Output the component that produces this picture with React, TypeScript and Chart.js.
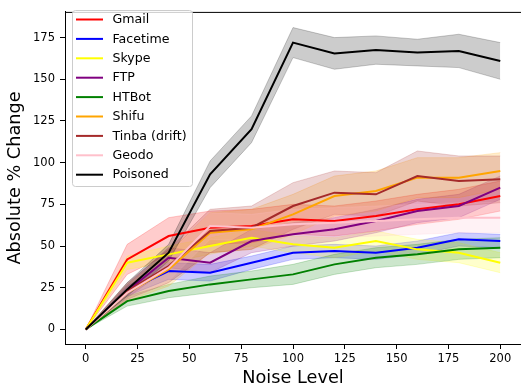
import React, { useEffect, useRef } from "react";
import { Chart, registerables } from "chart.js";

Chart.register(...registerables);

const noiseLevels = [0, 20, 40, 60, 80, 100, 120, 140, 160, 180, 200];
const xTicks = [0, 25, 50, 75, 100, 125, 150, 175, 200];
const yTicks = [0, 25, 50, 75, 100, 125, 150, 175];

const gmailMean = [0, 42, 56, 61, 62, 66, 65, 68, 72, 75, 80];
const gmailStd = [0, 9, 11, 10, 10, 9, 9, 9, 9, 9, 9];
const facetimeMean = [0, 23, 35, 34, 40, 46, 47, 46, 49, 54, 53];
const facetimeStd = [0, 3, 5, 5, 4, 4, 4, 4, 4, 4, 4];
const skypeMean = [0, 40, 45, 50, 55, 51, 49, 53, 48, 46, 40];
const skypeStd = [0, 4, 5, 5, 5, 5, 6, 6, 6, 6, 6];
const ftpMean = [0, 23, 43, 40, 53, 57, 60, 65, 71, 74, 85];
const ftpStd = [0, 4, 6, 6, 7, 7, 7, 7, 7, 7, 7];
const htbotMean = [0, 17, 23, 27, 30, 33, 39, 43, 45, 48, 49];
const htbotStd = [0, 3, 4, 5, 5, 6, 6, 6, 6, 6, 6];
const shifuMean = [0, 22, 36, 58, 60, 69, 80, 83, 91, 91, 95];
const shifuStd = [0, 5, 10, 12, 12, 12, 12, 12, 12, 12, 11];
const tinbaMean = [0, 23, 38, 59, 61, 74, 82, 81, 92, 89, 90];
const tinbaStd = [0, 5, 10, 13, 13, 14, 13, 13, 15, 15, 14];
const geodoMean = [0, 22, 37, 62, 61, 63, 64, 65, 66, 67, 67];
const geodoStd = [0, 5, 8, 8, 8, 9, 9, 9, 9, 9, 9];
const poisonedMean = [0, 24, 46, 93, 120, 172, 165.5, 167.5, 166, 167, 161];
const poisonedStd = [0, 4, 5, 8, 8, 9, 9.5, 8.5, 8, 10, 11];

const seriesNames = ["Gmail", "Facetime", "Skype", "FTP", "HTBot", "Shifu", "Tinba (drift)", "Geodo", "Poisoned"];
const seriesColors = [
  [255, 0, 0],
  [0, 0, 255],
  [255, 255, 0],
  [128, 0, 128],
  [0, 128, 0],
  [255, 165, 0],
  [165, 42, 42],
  [255, 192, 203],
  [0, 0, 0],
];
const seriesMeans = [gmailMean, facetimeMean, skypeMean, ftpMean, htbotMean, shifuMean, tinbaMean, geodoMean, poisonedMean];
const seriesStds = [gmailStd, facetimeStd, skypeStd, ftpStd, htbotStd, shifuStd, tinbaStd, geodoStd, poisonedStd];

const FONT = "'DejaVu Sans', sans-serif";

const rgb = (c: number[]) => `rgb(${c[0]},${c[1]},${c[2]})`;
const rgba = (c: number[], a: number) => `rgba(${c[0]},${c[1]},${c[2]},${a})`;

export default function App() {
  const canvasRef = useRef<HTMLCanvasElement | null>(null);

  useEffect(() => {
    document.body.style.margin = "0";
    const canvas = canvasRef.current;
    if (!canvas) return;

    const datasets: any[] = [];
    seriesNames.forEach((name, i) => {
      const mean = seriesMeans[i];
      const std = seriesStds[i];
      const col = seriesColors[i];
      const upper = noiseLevels.map((x, k) => ({ x, y: mean[k] + std[k] }));
      const lower = noiseLevels.map((x, k) => ({ x, y: mean[k] - std[k] }));
      const upperIndex = datasets.length;
      datasets.push({
        label: name + " upper",
        data: upper,
        borderColor: rgba(col, 0.2),
        borderWidth: 1,
        backgroundColor: rgba(col, 0.2),
        pointRadius: 0,
        fill: { target: upperIndex + 1 },
        order: 200 - i,
        tension: 0,
      });
      datasets.push({
        label: name + " lower",
        data: lower,
        borderColor: rgba(col, 0.2),
        borderWidth: 1,
        pointRadius: 0,
        fill: false,
        order: 200 - i,
        tension: 0,
      });
      datasets.push({
        label: name,
        data: noiseLevels.map((x, k) => ({ x, y: mean[k] })),
        borderColor: rgb(col),
        borderWidth: 2,
        pointRadius: 0,
        fill: false,
        order: 50 - i,
        tension: 0,
      });
    });

    const framePlugin = {
      id: "mplFrame",
      afterDraw(chart: any) {
        const { ctx, chartArea } = chart;
        ctx.save();
        ctx.strokeStyle = "#000";
        ctx.lineWidth = 1;
        ctx.beginPath();
        ctx.moveTo(chartArea.left, chartArea.top + 0.5);
        ctx.lineTo(chartArea.right, chartArea.top + 0.5);
        ctx.stroke();

        // legend
        const bx = 72.5, by = 10.5, bw = 120, bh = 176;
        ctx.beginPath();
        if ((ctx as any).roundRect) (ctx as any).roundRect(bx, by, bw, bh, 3);
        else ctx.rect(bx, by, bw, bh);
        ctx.fillStyle = "rgba(255,255,255,0.8)";
        ctx.fill();
        ctx.strokeStyle = "#cccccc";
        ctx.stroke();
        ctx.font = `12.6px ${FONT}`;
        ctx.textBaseline = "middle";
        ctx.textAlign = "left";
        seriesNames.forEach((name, i) => {
          const cy = 19.5 + i * 19.4;
          ctx.strokeStyle = rgb(seriesColors[i]);
          ctx.lineWidth = 2;
          ctx.beginPath();
          ctx.moveTo(76, cy);
          ctx.lineTo(103, cy);
          ctx.stroke();
          ctx.fillStyle = "#000";
          ctx.fillText(name, 112.5, cy + 0.5);
        });
        ctx.restore();
      },
    };

    const chart = new Chart(canvas, {
      type: "line",
      data: { datasets },
      plugins: [framePlugin],
      options: {
        responsive: false,
        animation: false,
        devicePixelRatio: 1,
        layout: { padding: { top: 3, left: 0, right: -3, bottom: 0 } },
        plugins: {
          legend: { display: false },
          tooltip: { enabled: false },
          filler: { propagate: false },
        },
        scales: {
          x: {
            type: "linear",
            min: -10,
            max: 210,
            afterFit: (scale: any) => {
              scale.height = 46;
              scale.paddingRight = 0;
              scale.paddingLeft = 0;
            },
            afterBuildTicks: (scale: any) => {
              scale.ticks = xTicks.map((v) => ({ value: v }));
            },
            grid: { drawOnChartArea: false, drawTicks: true, tickLength: 5, color: "#000" },
            border: { display: true, color: "#000", width: 1 },
            ticks: { color: "#000", padding: 3, maxRotation: 0, font: { family: FONT, size: 11.5 } },
            title: {
              display: true,
              text: "Noise Level",
              color: "#000",
              font: { family: FONT, size: 17.7 },
              padding: { top: 0, bottom: 1 },
            },
          },
          y: {
            type: "linear",
            min: -8.75,
            max: 190.4,
            afterFit: (scale: any) => {
              scale.width = 65;
            },
            afterBuildTicks: (scale: any) => {
              scale.ticks = yTicks.map((v) => ({ value: v }));
            },
            grid: { drawOnChartArea: false, drawTicks: true, tickLength: 5, color: "#000" },
            border: { display: true, color: "#000", width: 1 },
            ticks: { color: "#000", padding: 5, font: { family: FONT, size: 11.5 } },
            title: {
              display: true,
              text: "Absolute % Change",
              color: "#000",
              font: { family: FONT, size: 17.7 },
              padding: { top: 5, bottom: 0 },
            },
          },
        },
      },
    });

    return () => {
      chart.destroy();
    };
  }, []);

  return (
    <div style={{ width: 521, height: 390 }}>
      <canvas ref={canvasRef} width={521} height={390} style={{ display: "block", width: 521, height: 390 }} />
    </div>
  );
}
